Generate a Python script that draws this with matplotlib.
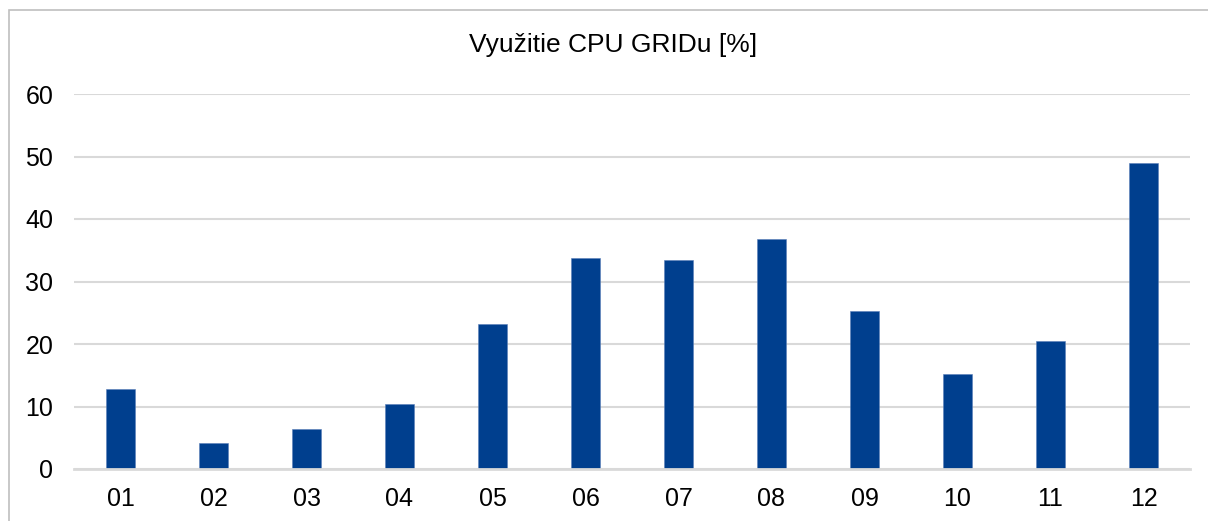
import matplotlib
matplotlib.use('Agg')
import matplotlib.pyplot as plt
from matplotlib.patches import Rectangle

# mesiace a vyuzitie CPU v percentach
months = ['01', '02', '03', '04', '05', '06', '07', '08', '09', '10', '11', '12']
cpu_usage = [12.8, 4.1, 6.4, 10.4, 23.2, 33.8, 33.4, 36.8, 25.3, 15.2, 20.5, 49.0]
y_ticks = [0, 10, 20, 30, 40, 50, 60]

plt.rcParams['font.family'] = ['Liberation Sans', 'DejaVu Sans']

fig = plt.figure(figsize=(12.08, 5.21), dpi=100)

# ramcek okolo grafu (odrezany vpravo a dole)
fig.patches.append(Rectangle((9 / 1208, -0.1), 1.2, 1 - 10 / 521 + 0.1,
                             transform=fig.transFigure, fill=False,
                             edgecolor='#bfbfbf', linewidth=1.2))

ax = fig.add_axes([74 / 1208, 1 - 469 / 521, (1190 - 74) / 1208, (469 - 94) / 521])
x = range(len(months))
ax.bar(x, cpu_usage, width=0.31, color='#003f8e', edgecolor='#5a7fb8', linewidth=0.4, zorder=3)

ax.set_xlim(-0.5, len(months) - 0.5)
ax.set_ylim(0, 60)
ax.set_yticks(y_ticks)
ax.set_xticks(list(x))
ax.set_xticklabels(months)
ax.grid(axis='y', color='#d9d9d9', linewidth=1.5, zorder=0)
ax.tick_params(axis='both', length=0, labelsize=18, colors='#000000')
ax.tick_params(axis='x', pad=13)
ax.tick_params(axis='y', pad=15)

for side in ['top', 'right', 'left']:
    ax.spines[side].set_visible(False)
ax.spines['bottom'].set_color('#d9d9d9')
ax.spines['bottom'].set_linewidth(2)
ax.spines['bottom'].set_zorder(4)

fig.text(613 / 1208, 1 - 45 / 521, 'Využitie CPU GRIDu [%]', ha='center', va='center', fontsize=19)

fig.savefig('out.png', dpi=100)
